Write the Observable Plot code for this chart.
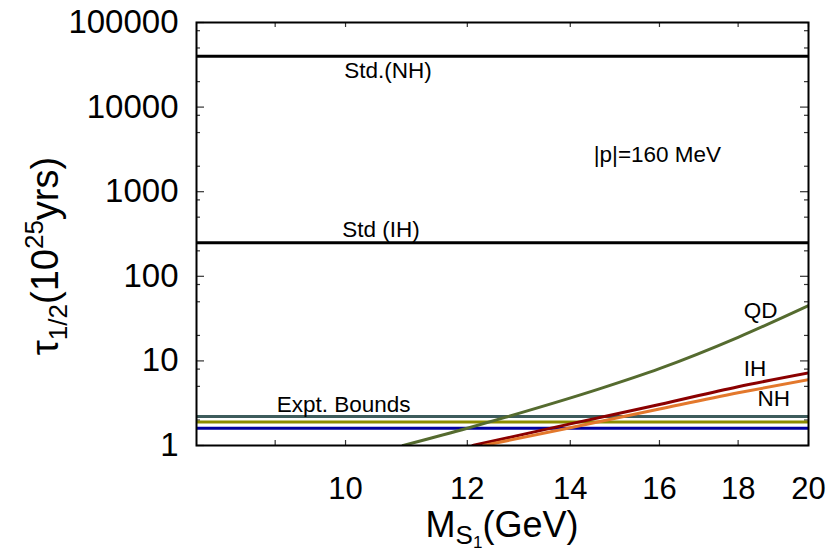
<!DOCTYPE html>
<html><head><meta charset="utf-8">
<script src="https://cdn.jsdelivr.net/npm/d3@7"></script>
<script src="https://cdn.jsdelivr.net/npm/@observablehq/plot@0.6"></script>
<style>body{margin:0;background:#fff}</style>
</head><body><div id="chart"></div>
<script>
// ---- data ----
const stdNH = 40000;          // Std.(NH)
const stdIH = 250;            // Std (IH)
const exptBounds = [2.2, 1.9, 1.6];
const qdMass = [10.9, 12, 12.7, 14.64, 16, 18, 20];
const qdTau  = [1, 1.6, 2.15, 4.7, 8.1, 19, 45];
const ihMass = [12.1, 14, 16, 18, 20];
const ihTau  = [1, 1.8, 3.05, 4.95, 7.2];
const nhMass = [12.3, 14, 16, 18, 20];
const nhTau  = [1, 1.62, 2.7, 4.2, 6.0];
const yTicks = [1, 10, 100, 1000, 10000, 100000];
const yMinor = [2,5,8,20,50,80,200,500,800,2000,5000,8000,20000,50000,80000];
const xTicks = [10, 12, 14, 16, 18, 20];
const xMinor = [9];
const labelText = ["Std.(NH)", "Std (IH)", "|p|=160 MeV", "QD", "IH", "NH", "Expt. Bounds"];
const labelMass = [9.98, 9.95, 14.5, 18.15, 18.15, 18.53, 9.02];
const labelTau  = [27000, 357, 2750, 39.4, 8.1, 3.59, 3.0];

// ---- styles ----
const exptColors = ["#3d5c5c", "#8c8c00", "#0000a0"];
const FONT = "Liberation Sans, Arial, Helvetica, sans-serif";
const W = 830, H = 551, ML = 196, MR = 22, MT = 22, MB = 106;
const PW = W - ML - MR, PH = H - MT - MB;

const series = (m, t) => m.map((x, i) => ({x, y: t[i]}));
const labels = labelText.map((t, i) => ({t, x: labelMass[i], y: labelTau[i]}));

const chart = Plot.plot({
  width: W, height: H,
  marginLeft: ML, marginRight: MR, marginTop: MT, marginBottom: MB,
  style: {fontFamily: FONT, background: "#fff", color: "#000"},
  x: {type: "log", domain: [8, 20]},
  y: {type: "log", domain: [1, 100000]},
  marks: [
    // inward ticks
    Plot.tickY(yTicks, {y: d => d, insetRight: PW - 8, stroke: "#333", strokeWidth: 1.2}),
    Plot.tickY(yTicks, {y: d => d, insetLeft: PW - 8, stroke: "#333", strokeWidth: 1.2}),
    Plot.tickY(yMinor, {y: d => d, insetRight: PW - 4, stroke: "#333", strokeWidth: 1.2}),
    Plot.tickY(yMinor, {y: d => d, insetLeft: PW - 4, stroke: "#333", strokeWidth: 1.2}),
    Plot.tickX(xTicks.concat(xMinor), {x: d => d, insetTop: PH - 5, stroke: "#333", strokeWidth: 1.2}),
    Plot.tickX(xTicks.concat(xMinor), {x: d => d, insetBottom: PH - 5, stroke: "#333", strokeWidth: 1.2}),
    // horizontal lines
    Plot.ruleY([stdNH], {stroke: "#000", strokeWidth: 3}),
    Plot.ruleY([stdIH], {stroke: "#000", strokeWidth: 3}),
    Plot.ruleY(exptBounds, {y: d => d, stroke: (d, i) => exptColors[i], strokeWidth: 3}),
    // curves
    Plot.line(series(qdMass, qdTau), {x: "x", y: "y", stroke: "#556b2f", strokeWidth: 3, curve: "monotone-x", clip: true}),
    Plot.line(series(ihMass, ihTau), {x: "x", y: "y", stroke: "#8b0000", strokeWidth: 3, curve: "monotone-x", clip: true}),
    Plot.line(series(nhMass, nhTau), {x: "x", y: "y", stroke: "#e3782c", strokeWidth: 3, curve: "monotone-x", clip: true}),
    // labels
    Plot.text(labels, {x: "x", y: "y", text: "t", textAnchor: "start", fontSize: 22.5, fontFamily: FONT, fill: "#000"}),
    Plot.frame({stroke: "#000", strokeWidth: 2}),
    // axes
    Plot.axisY(yTicks, {tickSize: 0, tickPadding: 18, fontSize: 33, fontFamily: FONT, tickFormat: d => String(d), label: null}),
    Plot.axisX(xTicks, {tickSize: 0, tickPadding: 31, fontSize: 31, fontFamily: FONT, tickFormat: d => String(d), label: null})
  ]
});
document.getElementById("chart").appendChild(chart);

const svg = d3.select(chart);
// Y title
const yt = svg.append("text")
  .attr("transform", "translate(58,256) rotate(-90)")
  .attr("text-anchor", "middle")
  .attr("font-family", FONT).attr("font-size", 38).attr("fill", "#000");
yt.append("tspan").text("τ");
yt.append("tspan").attr("font-size", 26).attr("dy", 9).text("1/2");
yt.append("tspan").attr("dy", -9).text("(10");
yt.append("tspan").attr("font-size", 26).attr("dy", -15).text("25");
yt.append("tspan").attr("dy", 15).text("yrs)");
// X title
const xt = svg.append("text")
  .attr("x", 502).attr("y", 537)
  .attr("text-anchor", "middle")
  .attr("font-family", FONT).attr("font-size", 36).attr("fill", "#000");
xt.append("tspan").text("M");
xt.append("tspan").attr("font-size", 26).attr("dy", 7).text("S");
xt.append("tspan").attr("font-size", 17).attr("dy", 4).text("1");
xt.append("tspan").attr("dy", -11).text("(GeV)");
</script>
</body></html>
